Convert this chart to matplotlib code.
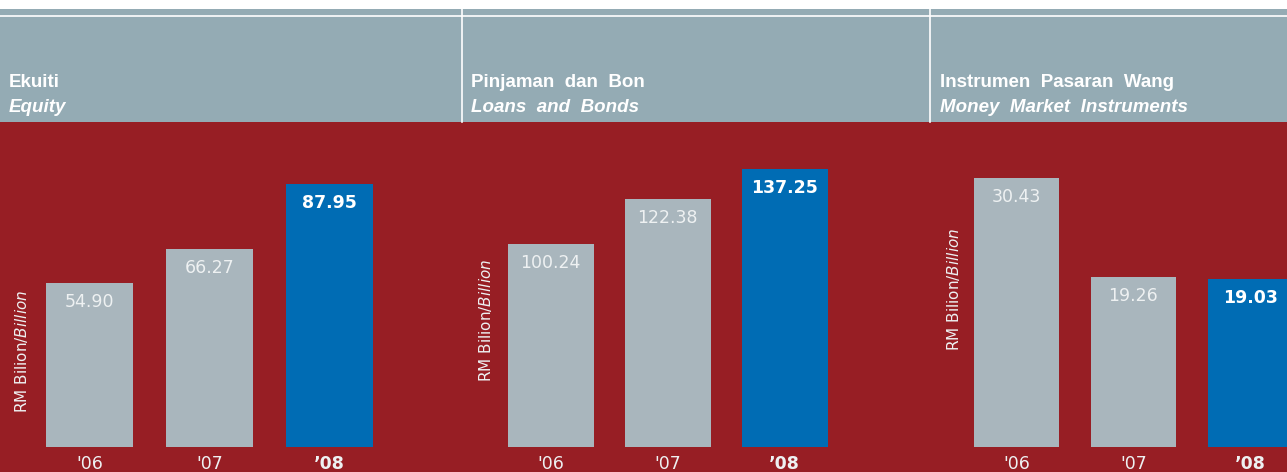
import matplotlib
matplotlib.use("Agg")
import matplotlib.pyplot as plt
from matplotlib.patches import Rectangle

years = ["'06", "'07", "’08"]
equity = [54.90, 66.27, 87.95]
loans = [100.24, 122.38, 137.25]
money = [30.43, 19.26, 19.03]

titles_my = ["Ekuiti", "Pinjaman  dan  Bon", "Instrumen  Pasaran  Wang"]
titles_en = ["Equity", "Loans  and  Bonds", "Money  Market  Instruments"]
unit_label = r"RM Bilion/$\it{Billion}$"

RED = "#971e24"
HEAD = "#94abb4"
BAR = "#a9b6bd"
BLUE = "#006cb4"
TXT = "#eef1f2"

W, H = 1287, 472


def fx(x):
    return x / W


def fy(y):
    return 1 - y / H


def main():
    fig = plt.figure(figsize=(W / 100, H / 100), dpi=100)
    fig.patch.set_facecolor("white")

    # header band and red plot band
    fig.add_artist(Rectangle((0, fy(122)), 1, fy(9) - fy(122), transform=fig.transFigure,
                             facecolor=HEAD, edgecolor="none", zorder=0))
    fig.add_artist(Rectangle((0, 0), 1, fy(122), transform=fig.transFigure,
                             facecolor=RED, edgecolor="none", zorder=0))
    fig.add_artist(plt.Line2D([0, 1], [fy(16), fy(16)], transform=fig.transFigure,
                              color="white", lw=1.2, zorder=1))
    for xv in [462, 930]:
        fig.add_artist(plt.Line2D([fx(xv), fx(xv)], [fy(9), fy(122)], transform=fig.transFigure,
                                  color="white", lw=1.2, zorder=1))

    # panel layout in pixels: left, right, first bar centre, spacing, bar width, top value
    panels = [
        (equity, 0, 462, 89.5, 120, 87, 108.8, 9, (22, 351)),
        (loans, 462, 930, 550.5, 117, 86, 160.5, 471, (485, 320)),
        (money, 930, 1287, 1016.5, 117, 85, 36.8, 940, (953, 289)),
    ]

    for k, (vals, L, R, c0, sp, bw, ytop, tx, ylab) in enumerate(panels):
        ax = fig.add_axes([fx(L), 0, fx(R) - fx(L), fy(122)])
        ax.set_facecolor("none")
        ax.set_xlim((L - c0) / sp, (R - c0) / sp)
        ax.set_ylim(-ytop * 25 / 325, ytop)
        ax.axis("off")
        cols = [BAR, BAR, BLUE]
        ax.bar(range(3), vals, width=bw / sp, color=cols, edgecolor="none")
        for i, v in enumerate(vals):
            bold = i == 2
            ax.annotate(f"{v:.2f}", (i, v), xytext=(0, -13.5), textcoords="offset points",
                        ha="center", va="center", fontsize=12.5,
                        color="white" if bold else TXT,
                        fontweight="bold" if bold else "normal")
            ax.annotate(years[i], (i, 0), xytext=(0, -12), textcoords="offset points",
                        ha="center", va="center", fontsize=12.5, color=TXT,
                        fontweight="bold" if bold else "normal")

        fig.text(fx(tx), fy(87), titles_my[k], fontsize=13.5, fontweight="bold",
                 family=["Liberation Sans", "DejaVu Sans"], color="white", va="baseline")
        fig.text(fx(tx), fy(112), titles_en[k], fontsize=13.5, fontweight="bold",
                 style="italic", family=["Liberation Sans", "DejaVu Sans"],
                 color="white", va="baseline")
        fig.text(fx(ylab[0]), fy(ylab[1]), unit_label, rotation=90, fontsize=11,
                 color=TXT, ha="center", va="center")

    plt.savefig("out.png", dpi=100)


if __name__ == "__main__":
    main()
